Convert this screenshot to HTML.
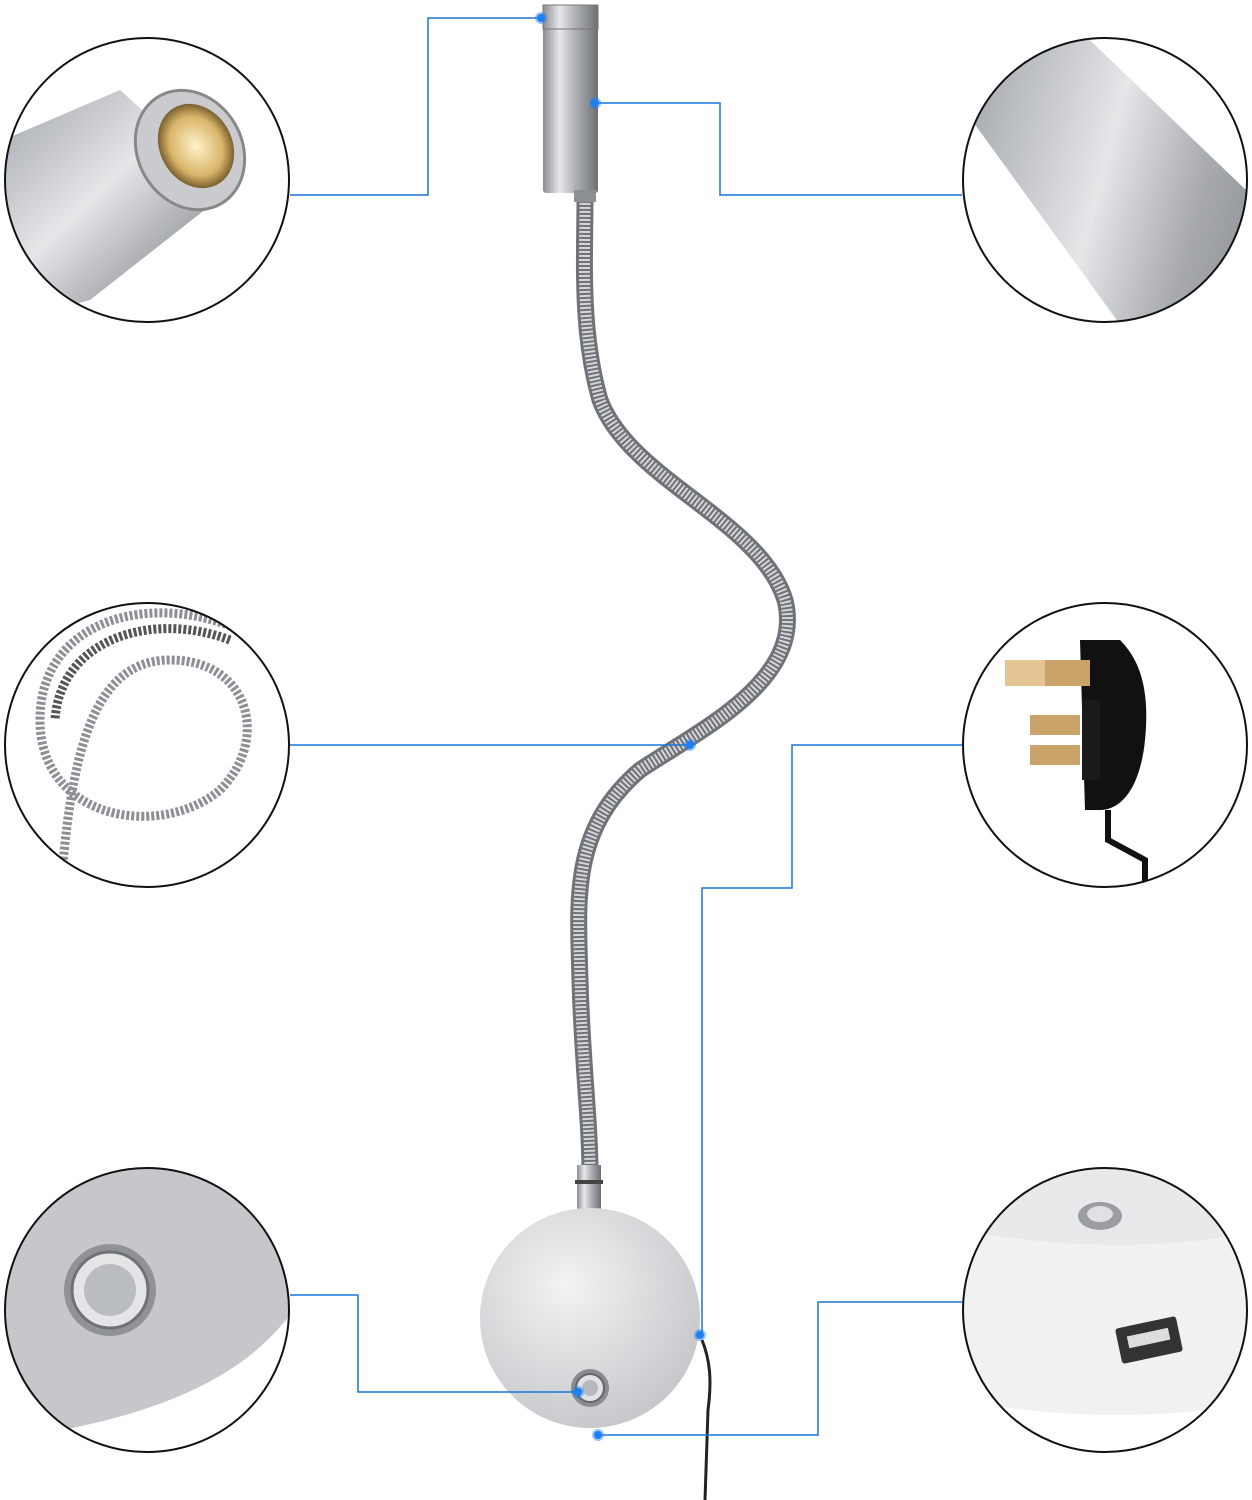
<!DOCTYPE html>
<html><head><meta charset="utf-8"><style>
html,body{margin:0;padding:0;background:#fff;}
svg{display:block;}
</style></head><body>
<svg width="1252" height="1500" viewBox="0 0 1252 1500" xmlns="http://www.w3.org/2000/svg">
<defs>
<linearGradient id="metal" x1="0" x2="1" y1="0" y2="0">
<stop offset="0" stop-color="#8a8d92"/><stop offset="0.3" stop-color="#e6e8ea"/><stop offset="0.55" stop-color="#b5b8bc"/><stop offset="1" stop-color="#6d7075"/>
</linearGradient>
<linearGradient id="tube" x1="0" x2="1" y1="0" y2="1">
<stop offset="0" stop-color="#9a9ea3"/><stop offset="0.45" stop-color="#e4e6e8"/><stop offset="0.7" stop-color="#a7aaae"/><stop offset="1" stop-color="#80848a"/>
</linearGradient>
<radialGradient id="disc" cx="0.4" cy="0.35" r="0.7">
<stop offset="0" stop-color="#f2f3f4"/><stop offset="1" stop-color="#c4c6c9"/>
</radialGradient>
<radialGradient id="warm" cx="0.5" cy="0.5" r="0.5">
<stop offset="0" stop-color="#fff3c8"/><stop offset="0.7" stop-color="#d9b56a"/><stop offset="1" stop-color="#7a6030"/>
</radialGradient>
<clipPath id="c1"><circle cx="147" cy="180" r="142"/></clipPath>
<clipPath id="c2"><circle cx="1105" cy="180" r="142"/></clipPath>
<clipPath id="c3"><circle cx="147" cy="745" r="142"/></clipPath>
<clipPath id="c4"><circle cx="1105" cy="745" r="142"/></clipPath>
<clipPath id="c5"><circle cx="147" cy="1310" r="142"/></clipPath>
<clipPath id="c6"><circle cx="1105" cy="1310" r="142"/></clipPath>
</defs>

<!-- circle 1: lamp head closeup -->
<g clip-path="url(#c1)">
<rect x="0" y="30" width="300" height="300" fill="#fff"/>
<polygon points="-20,150 120,90 230,190 90,300 -20,330" fill="url(#tube)"/>
<ellipse cx="190" cy="150" rx="52" ry="62" transform="rotate(-30 190 150)" fill="#c9cbce" stroke="#888" stroke-width="3"/>
<ellipse cx="196" cy="146" rx="36" ry="44" transform="rotate(-30 196 146)" fill="url(#warm)"/>
</g>
<circle cx="147" cy="180" r="142" fill="none" stroke="#111" stroke-width="2"/>

<!-- circle 2: tube closeup -->
<g clip-path="url(#c2)">
<rect x="960" y="30" width="300" height="300" fill="#fff"/>
<polygon points="1000,20 1140,20 1260,330 1060,330" fill="url(#tube)" transform="rotate(-25 1105 180)"/>
</g>
<circle cx="1105" cy="180" r="142" fill="none" stroke="#111" stroke-width="2"/>

<!-- circle 3: coiled hose -->
<g clip-path="url(#c3)" fill="none" stroke="#8d9095" stroke-width="9" stroke-dasharray="3 2">
<path d="M240,630 C150,590 40,620 40,720 C40,820 160,840 220,790 C270,740 250,660 170,660 C90,660 70,760 60,900"/>
<path d="M230,640 C150,610 60,640 55,720" stroke="#555"/>
</g>
<circle cx="147" cy="745" r="142" fill="none" stroke="#111" stroke-width="2"/>

<!-- circle 4: plug -->
<g clip-path="url(#c4)">
<path d="M1080,640 L1120,640 C1140,660 1150,690 1145,740 C1140,790 1120,810 1100,810 L1085,810 Z" fill="#111"/>
<rect x="1005" y="660" width="85" height="26" fill="#c9a36a"/>
<rect x="1005" y="660" width="40" height="26" fill="#e5c493"/>
<rect x="1030" y="715" width="50" height="20" fill="#c9a36a"/>
<rect x="1030" y="745" width="50" height="20" fill="#c9a36a"/>
<rect x="1082" y="700" width="18" height="80" fill="#1a1a1a"/>
<path d="M1108,810 L1108,840 L1145,860 L1145,900" fill="none" stroke="#111" stroke-width="6"/>
</g>
<circle cx="1105" cy="745" r="142" fill="none" stroke="#111" stroke-width="2"/>

<!-- circle 5: button on disc -->
<g clip-path="url(#c5)">
<rect x="0" y="1160" width="300" height="300" fill="#fff"/>
<path d="M0,1160 L300,1160 L300,1300 C250,1380 150,1420 0,1440 Z" fill="#c5c7ca"/>
<circle cx="110" cy="1290" r="46" fill="#8f9296"/>
<circle cx="110" cy="1290" r="38" fill="#e3e5e7" stroke="#6e7176" stroke-width="3"/>
<circle cx="110" cy="1290" r="26" fill="#b9bcc0"/>
</g>
<circle cx="147" cy="1310" r="142" fill="none" stroke="#111" stroke-width="2"/>

<!-- circle 6: usb side -->
<g clip-path="url(#c6)">
<rect x="960" y="1160" width="300" height="300" fill="#fff"/>
<path d="M960,1160 L1260,1160 L1260,1230 C1180,1250 1060,1250 960,1230 Z" fill="#e8e9ea"/>
<path d="M960,1230 C1060,1250 1180,1250 1260,1230 L1260,1400 C1180,1420 1060,1420 960,1400 Z" fill="#f1f1f2"/>
<ellipse cx="1100" cy="1216" rx="22" ry="14" fill="#9a9da1"/>
<ellipse cx="1100" cy="1214" rx="13" ry="8" fill="#dfe1e3"/>
<rect x="1118" y="1322" width="62" height="36" rx="3" fill="#333" transform="rotate(-12 1149 1340)"/>
<rect x="1128" y="1332" width="42" height="12" fill="#ddd" transform="rotate(-12 1149 1340)"/>
</g>
<circle cx="1105" cy="1310" r="142" fill="none" stroke="#111" stroke-width="2"/>

<!-- gooseneck -->
<path d="M585,195 C585,260 580,330 600,400 C630,480 760,520 785,600 C805,680 700,730 640,770 C570,830 578,900 580,980 C582,1060 590,1120 590,1175" fill="none" stroke="#6f7378" stroke-width="17"/>
<path d="M585,195 C585,260 580,330 600,400 C630,480 760,520 785,600 C805,680 700,730 640,770 C570,830 578,900 580,980 C582,1060 590,1120 590,1175" fill="none" stroke="#d4d6d9" stroke-width="11" stroke-dasharray="2 2"/>

<!-- lamp head -->
<rect x="543" y="5" width="55" height="188" rx="3" fill="url(#metal)"/>
<rect x="543" y="5" width="55" height="24" fill="url(#metal)" stroke="#777" stroke-width="1"/>
<rect x="574" y="190" width="22" height="12" fill="#8c8f93"/>

<!-- base collar -->
<rect x="577" y="1165" width="24" height="50" fill="url(#metal)"/>
<rect x="575" y="1180" width="28" height="4" fill="#444"/>

<!-- disc -->
<circle cx="590" cy="1318" r="110" fill="url(#disc)"/>
<circle cx="590" cy="1388" r="19" fill="#888b8f"/>
<circle cx="590" cy="1388" r="14" fill="#e0e2e4" stroke="#666" stroke-width="2"/>
<circle cx="590" cy="1388" r="8" fill="#b6b9bd"/>

<!-- cable -->
<path d="M702,1340 C710,1360 712,1380 708,1410 L705,1500" fill="none" stroke="#222" stroke-width="3"/>

<!-- connector lines -->
<g fill="none" stroke="#1a73d9" stroke-width="1.5">
<polyline points="541,18 428,18 428,195 290,195"/>
<polyline points="595,103 720,103 720,195 962,195"/>
<polyline points="290,745 690,745"/>
<polyline points="962,745 792,745 792,888 702,888 702,1335"/>
<polyline points="290,1295 358,1295 358,1392 578,1392"/>
<polyline points="962,1302 818,1302 818,1435 598,1435"/>
</g>
<g fill="#1e7ff0">
<circle cx="541" cy="18" r="6" opacity="0.45"/><circle cx="541" cy="18" r="4"/>
<circle cx="595" cy="103" r="6" opacity="0.45"/><circle cx="595" cy="103" r="4"/>
<circle cx="690" cy="745" r="6" opacity="0.45"/><circle cx="690" cy="745" r="4"/>
<circle cx="700" cy="1335" r="6" opacity="0.45"/><circle cx="700" cy="1335" r="4"/>
<circle cx="578" cy="1392" r="6" opacity="0.45"/><circle cx="578" cy="1392" r="4"/>
<circle cx="598" cy="1435" r="6" opacity="0.45"/><circle cx="598" cy="1435" r="4"/>
</g>
</svg>
</body></html>
